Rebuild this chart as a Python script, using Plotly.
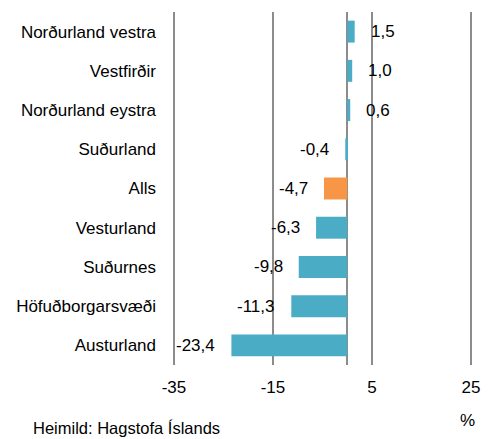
import plotly.graph_objects as go

categories = ["Norðurland vestra", "Vestfirðir", "Norðurland eystra", "Suðurland", "Alls",
              "Vesturland", "Suðurnes", "Höfuðborgarsvæði", "Austurland"]
values = [1.5, 1.0, 0.6, -0.4, -4.7, -6.3, -9.8, -11.3, -23.4]
colors = ["#4BACC6" if c != "Alls" else "#F79646" for c in categories]
x_ticks = [-35, -15, 5, 25]
x_tick_labels = ["-35", "-15", "5", "25"]

FONT = "Liberation Sans"
FS = 17
# page body adds an 8px margin, so the figure is sized 8px smaller
W, H = 483, 431
fig = go.Figure()
fig.add_trace(go.Bar(
    y=categories, x=values, orientation="h",
    marker=dict(color=colors, line=dict(width=0)),
    width=0.56, hoverinfo="skip",
))

for c, v in zip(categories, values):
    lab = f"{v:.1f}".replace(".", ",")
    if v >= 0:
        fig.add_annotation(x=v, y=c, text=lab, showarrow=False, xanchor="left",
                           xshift=14, font=dict(family=FONT, size=FS, color="#000"))
    else:
        fig.add_annotation(x=v, y=c, text=lab, showarrow=False, xanchor="right",
                           xshift=-14, font=dict(family=FONT, size=FS, color="#000"))

fig.add_annotation(xref="paper", yref="paper", x=0.983, y=-0.158, text="%", showarrow=False,
                   xanchor="center", yanchor="middle", font=dict(family=FONT, size=FS, color="#000"))
fig.add_annotation(xref="paper", yref="paper", x=-0.468, y=-0.178, text="Heimild: Hagstofa Íslands",
                   showarrow=False, xanchor="left", yanchor="middle",
                   font=dict(family=FONT, size=FS - 0.5, color="#000"))

fig.update_layout(
    width=W, height=H,
    margin=dict(l=164, r=18, t=4, b=74, pad=0),
    paper_bgcolor="white", plot_bgcolor="white",
    showlegend=False,
    font=dict(family=FONT, size=FS, color="#000"),
    xaxis=dict(range=[-35.4, 25.4], tickvals=x_ticks, ticktext=x_tick_labels, showgrid=True,
               gridcolor="#8C8C8C", gridwidth=2, zeroline=True, zerolinecolor="#8C8C8C",
               zerolinewidth=2, showline=False, ticks="", ticklabelstandoff=10,
               automargin=False, fixedrange=True),
    yaxis=dict(categoryorder="array", categoryarray=categories, autorange="reversed",
               showgrid=False, zeroline=False, showline=False, ticks="",
               ticklabelstandoff=15, automargin=False, fixedrange=True),
    bargap=0.44,
)

fig.write_html("out.html")
